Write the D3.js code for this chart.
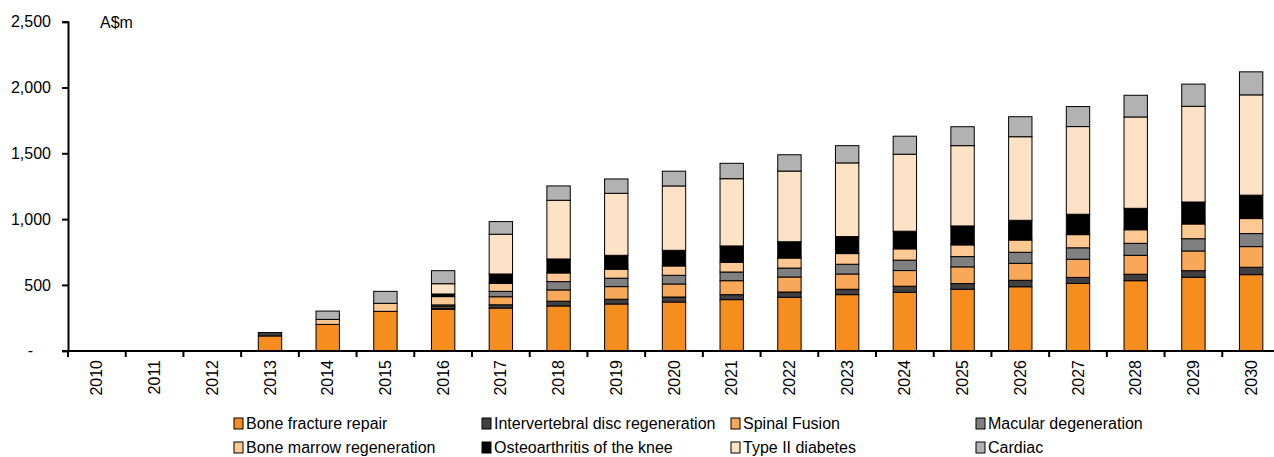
<!DOCTYPE html>
<html>
<head>
<meta charset="utf-8">
<script src="https://cdn.jsdelivr.net/npm/d3@7"></script>
<style>
  html, body { margin: 0; padding: 0; background: #fff; }
  svg { display: block; font-family: "Liberation Sans", Arial, sans-serif; }
</style>
</head>
<body>
<svg id="chart" width="1274" height="457"></svg>
<script>
const years = ["2010","2011","2012","2013","2014","2015","2016","2017","2018","2019","2020",
               "2021","2022","2023","2024","2025","2026","2027","2028","2029","2030"];
const seriesNames = ["Bone fracture repair","Intervertebral disc regeneration","Spinal Fusion",
  "Macular degeneration","Bone marrow regeneration","Osteoarthritis of the knee","Type II diabetes","Cardiac"];
const seriesColors = ["#F68D1F","#404040","#F9A85A","#808080","#FDC891","#000000","#FEE2C6","#B2B2B2"];

const boneFracture   = [0,0,0,112,200,299,315,324,340,355,370,388,406,426,444,467,486,511,532,558,578];
const intervertebral = [0,0,0,26,0,0,10,25,36,36,38,38,40,41,46,43,49,46,49,50,56];
const spinalFusion   = [0,0,0,0,0,0,13,61,86,96,99,106,114,116,119,127,129,138,144,150,157];
const macular        = [0,0,0,0,0,0,10,41,63,64,66,66,68,74,79,78,84,87,91,93,99];
const boneMarrow     = [0,0,0,0,38,61,63,61,66,68,71,74,76,81,86,89,93,100,103,112,114];
const osteoarthritis = [0,0,0,0,0,0,20,71,106,106,119,124,124,129,134,144,150,155,163,167,178];
const typeII         = [0,0,0,0,0,0,78,302,446,471,489,511,537,560,585,610,635,666,694,727,762];
const cardiac        = [0,0,0,0,63,91,99,96,109,109,112,117,124,131,137,144,152,152,165,169,175];

const yTicks = [0,500,1000,1500,2000,2500];
const unitLabel = "A$m";

const seriesValues = [boneFracture,intervertebral,spinalFusion,macular,boneMarrow,osteoarthritis,typeII,cardiac];

const FS = 16;
const svg = d3.select("#chart");
const x = d3.scaleBand().domain(years).range([68, 1280]).padding(0);
const y = d3.scaleLinear().domain([0, 2500]).range([350.7, 21.7]);

const rows = years.map((yr, i) => {
  const o = {year: yr};
  seriesNames.forEach((s, j) => o[s] = seriesValues[j][i]);
  return o;
});
const stacked = d3.stack().keys(seriesNames)(rows);

const bw = x.bandwidth();
const barW = bw * 0.405;

// bars
const g = svg.append("g");
stacked.forEach((layer, j) => {
  g.selectAll(null).data(layer.filter(d => d[1] - d[0] > 0)).enter().append("rect")
    .attr("x", d => x(d.data.year) + (bw - barW) / 2)
    .attr("width", barW)
    .attr("y", d => y(d[1]))
    .attr("height", d => y(d[0]) - y(d[1]))
    .attr("fill", seriesColors[j])
    .attr("stroke", "#000")
    .attr("stroke-width", 1);
});

// y axis
const yAxis = d3.axisLeft(y).tickValues(yTicks).tickSize(6).tickPadding(11)
  .tickFormat(d => d === 0 ? "-" : d3.format(",")(d));
const ya = svg.append("g").attr("transform", "translate(68,0)").call(yAxis);
ya.select(".domain").attr("stroke", "#000").attr("stroke-width", 2);
ya.selectAll(".tick line").attr("stroke", "#000").attr("stroke-width", 2);
ya.selectAll(".tick text").attr("font-size", FS).attr("fill", "#000")
  .attr("font-family", "Liberation Sans, Arial, sans-serif")
  .attr("dx", d => d === 0 ? -18 : 0);

// x axis
const xAxis = d3.axisBottom(x).tickSize(0).tickPadding(0);
const xa = svg.append("g").attr("transform", "translate(0,351)").call(xAxis);
xa.select(".domain").attr("stroke", "#000").attr("stroke-width", 2).attr("d", "M62,0H1280");
xa.selectAll(".tick text")
  .attr("font-size", FS).attr("fill", "#000")
  .attr("font-family", "Liberation Sans, Arial, sans-serif")
  .attr("transform", "rotate(-90)")
  .attr("text-anchor", "end")
  .attr("x", -9).attr("y", 0).attr("dy", "0.35em");
xa.selectAll(".bound").data(years).enter().append("line").attr("class", "bound")
  .attr("x1", d => x(d)).attr("x2", d => x(d)).attr("y1", 0).attr("y2", 6)
  .attr("stroke", "#000").attr("stroke-width", 2);

// unit label
svg.append("text").attr("x", 100).attr("y", 28).attr("font-size", FS).attr("fill", "#000").text(unitLabel);

// legend
const legX = [246, 494, 743, 988];
const legY = [429, 453];
seriesNames.forEach((s, j) => {
  const cx = legX[j % 4], cy = legY[Math.floor(j / 4)];
  svg.append("rect").attr("x", cx - 12).attr("y", cy - 11).attr("width", 9).attr("height", 11)
    .attr("fill", seriesColors[j]).attr("stroke", "#000").attr("stroke-width", 1);
  svg.append("text").attr("x", cx).attr("y", cy).attr("font-size", FS).attr("fill", "#000").text(s);
});
</script>
</body>
</html>
